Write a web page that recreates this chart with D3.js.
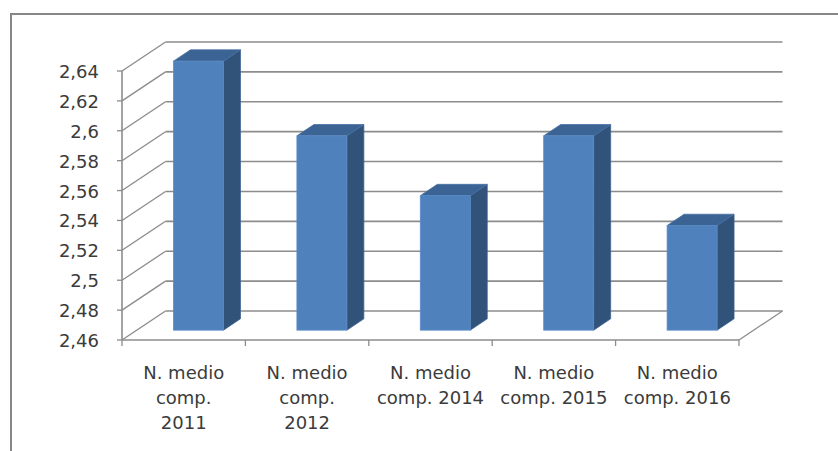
<!DOCTYPE html>
<html>
<head>
<meta charset="utf-8">
<script src="https://cdn.jsdelivr.net/npm/d3@7"></script>
<style>
  html, body { margin: 0; padding: 0; background: #fff; }
  svg { display: block; }
</style>
</head>
<body>
<svg id="chart" width="838" height="451"></svg>
<script>
// ---- data ----
const categories = [
  "N. medio\ncomp.\n2011",
  "N. medio\ncomp.\n2012",
  "N. medio\ncomp. 2014",
  "N. medio\ncomp. 2015",
  "N. medio\ncomp. 2016"
];
const values = [2.64, 2.59, 2.55, 2.59, 2.53];
const yTicks = [2.46, 2.48, 2.5, 2.52, 2.54, 2.56, 2.58, 2.6, 2.62, 2.64];
const yTickLabels = ["2,46", "2,48", "2,5", "2,52", "2,54", "2,56", "2,58", "2,6", "2,62", "2,64"];

// ---- layout ----
const W = 838, H = 451;
const svg = d3.select("#chart");
const font = "'DejaVu Sans', sans-serif";
const depth = { dx: 43.5, dy: -29 };          // full depth of the 3D box
const barFront = 0.34, barDepth = 0.39;       // bar position in depth (fraction)

const x = d3.scaleBand().domain(d3.range(categories.length)).range([122, 739]).paddingInner(0).paddingOuter(0);
const y = d3.scaleLinear().domain([2.46, 2.64]).range([340, 71]);

const grid = "#8c8c8c";

// outer border
svg.append("path")
  .attr("d", `M11,${H + 2} L11,14 L${W + 2},14`)
  .attr("fill", "none").attr("stroke", "#878787").attr("stroke-width", 2);

// back wall gridlines
svg.append("g").selectAll("line").data(yTicks).join("line")
  .attr("x1", x.range()[0] + depth.dx).attr("x2", x.range()[1] + depth.dx)
  .attr("y1", d => y(d) + depth.dy).attr("y2", d => y(d) + depth.dy)
  .attr("stroke", grid).attr("stroke-width", 1.6);

// side wall diagonals
svg.append("g").selectAll("line").data(yTicks).join("line")
  .attr("x1", x.range()[0]).attr("x2", x.range()[0] + depth.dx)
  .attr("y1", d => y(d)).attr("y2", d => y(d) + depth.dy)
  .attr("stroke", grid).attr("stroke-width", 1.3);

// floor right diagonal & front edge
svg.append("line")
  .attr("x1", x.range()[1]).attr("y1", y(2.46))
  .attr("x2", x.range()[1] + depth.dx).attr("y2", y(2.46) + depth.dy)
  .attr("stroke", grid).attr("stroke-width", 1.3);
svg.append("line")
  .attr("x1", x.range()[0]).attr("y1", y(2.46))
  .attr("x2", x.range()[1]).attr("y2", y(2.46))
  .attr("stroke", grid).attr("stroke-width", 1.6);

// vertical axis line
svg.append("line")
  .attr("x1", x.range()[0]).attr("x2", x.range()[0])
  .attr("y1", y(2.64)).attr("y2", y(2.46))
  .attr("stroke", grid).attr("stroke-width", 1.6);

// y ticks and labels
const yAxis = svg.append("g");
yAxis.selectAll("line").data(yTicks).join("line")
  .attr("x1", x.range()[0] - 5).attr("x2", x.range()[0])
  .attr("y1", d => y(d)).attr("y2", d => y(d))
  .attr("stroke", grid).attr("stroke-width", 1.3);
yAxis.selectAll("text").data(yTicks).join("text")
  .attr("x", 99).attr("y", d => y(d) + 7)
  .attr("text-anchor", "end")
  .attr("font-family", font).attr("font-size", 18).attr("fill", "#3b3b3b")
  .text((d, i) => yTickLabels[i]);

// category ticks
const bounds = d3.range(categories.length + 1).map(i => i < categories.length ? x(i) : x.range()[1]);
svg.append("g").selectAll("line").data(bounds).join("line")
  .attr("x1", d => d).attr("x2", d => d)
  .attr("y1", y(2.46)).attr("y2", y(2.46) + 6)
  .attr("stroke", grid).attr("stroke-width", 1.3);

// bars
const bw = x.bandwidth() * 0.405;
const fx = depth.dx * barFront, fy = depth.dy * barFront;
const bdx = depth.dx * barDepth, bdy = depth.dy * barDepth;
const bars = svg.append("g").selectAll("g").data(values).join("g");
bars.each(function(v, i) {
  const g = d3.select(this);
  const x0 = x(i) + x.bandwidth() / 2 - bw / 2 + fx;
  const x1 = x0 + bw;
  const yb = y(2.46) + fy;
  const yt = y(v) + fy;
  // side
  g.append("path")
    .attr("d", `M${x1},${yb} L${x1 + bdx},${yb + bdy} L${x1 + bdx},${yt + bdy} L${x1},${yt} Z`)
    .attr("fill", "#31537a").attr("stroke", "#3d6291").attr("stroke-width", 0.8);
  // top
  g.append("path")
    .attr("d", `M${x0},${yt} L${x0 + bdx},${yt + bdy} L${x1 + bdx},${yt + bdy} L${x1},${yt} Z`)
    .attr("fill", "#3b6393").attr("stroke", "#4670a3").attr("stroke-width", 0.8);
  // front
  g.append("rect")
    .attr("x", x0).attr("y", yt).attr("width", bw).attr("height", yb - yt)
    .attr("fill", "#4f81bd").attr("stroke", "#5a8bc6").attr("stroke-width", 0.8);
});

// category labels
const lab = svg.append("g").selectAll("text").data(categories).join("text")
  .attr("text-anchor", "middle")
  .attr("font-family", font).attr("font-size", 18).attr("fill", "#3b3b3b");
lab.each(function(d, i) {
  const t = d3.select(this);
  d.split("\n").forEach((line, k) => {
    t.append("tspan")
      .attr("x", x(i) + x.bandwidth() / 2)
      .attr("y", 379 + k * 25)
      .text(line);
  });
});
</script>
</body>
</html>
